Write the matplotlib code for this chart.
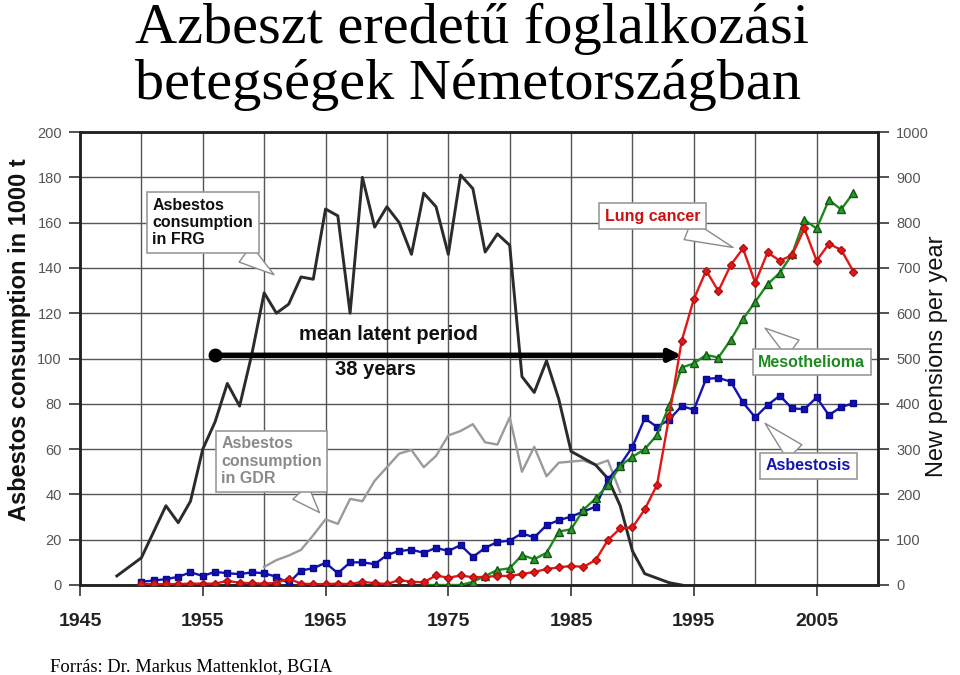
import matplotlib
matplotlib.use("Agg")
import matplotlib.pyplot as plt

# asbestos consumption, 1000 t
frg_years = [1948, 1950, 1952, 1953, 1954, 1955, 1956, 1957, 1958, 1959,
             1960, 1961, 1962, 1963, 1964, 1965, 1966, 1967, 1968, 1969,
             1970, 1971, 1972, 1973, 1974, 1975, 1976, 1977, 1978, 1979,
             1980, 1981, 1982, 1983, 1984, 1985, 1986, 1987, 1988, 1989,
             1990, 1991, 1992, 1993, 1994]
frg = [4, 12, 35, 27.5, 37, 60, 72, 89, 79, 102,
       129, 120, 124, 136, 135, 166, 163, 120, 180, 158,
       167, 160, 146, 173, 167, 146, 181, 175, 147, 155,
       150, 92, 85, 99, 82, 59, 56, 53, 47, 35,
       15, 5, 3, 1, 0]

gdr_years = list(range(1960, 1990))
gdr = [8, 11, 13, 15.5, 22, 29, 27, 38, 37, 46,
       52, 58, 59.6, 52, 57, 66, 68, 71, 63, 62,
       74, 50, 61, 48, 54, 54.5, 55, 53, 55, 41]

# new pensions per year
years = list(range(1950, 2009))
asbestosis = [7, 10, 13, 18, 28, 20, 29, 26, 24, 28,
              26, 18, 4, 32, 37, 49, 26, 50, 50, 46,
              66, 75, 78, 71, 82, 75, 88, 62, 82, 95,
              98, 114, 105, 132, 143, 151, 162, 173, 233, 265,
              305, 368, 349, 365, 395, 387, 455, 457, 449, 403,
              370, 397, 418, 390, 388, 414, 375, 393, 401]
lung_cancer = [2, 2, 2, 2, 3, 3, 3, 9, 5, 4,
               3, 5, 14, 3, 2, 2, 3, 2, 7, 4,
               2, 11, 7, 6, 21, 16, 21, 17, 18, 20,
               20, 24, 29, 35, 39, 42, 40, 55, 99, 125,
               127, 167, 221, 373, 538, 631, 694, 649, 706, 743,
               667, 734, 716, 728, 787, 716, 753, 740, 692]
meso_years = list(range(1973, 2009))
mesothelioma = [0, 0, 0, 0, 7, 20, 33, 37, 66, 57,
                71, 118, 123, 166, 191, 221, 263, 283, 300, 331,
                396, 480, 489, 508, 502, 541, 587, 625, 664, 689,
                730, 806, 787, 850, 829, 866]

latent_start = 1956
latent_years = 38

sans = ["Liberation Sans", "DejaVu Sans"]
serif = ["Liberation Serif", "DejaVu Serif"]

fig = plt.figure(figsize=(9.6, 6.75), dpi=100)
fig.patch.set_facecolor("white")

ax = fig.add_axes([80 / 960, 1 - 585 / 675, 798 / 960, 453 / 675])
ax2 = ax.twinx()

ax.set_xlim(1945, 2010)
ax.set_ylim(0, 200)
ax2.set_ylim(0, 1000)

ax.set_xticks(range(1945, 2011, 10))
ax.set_xticks(range(1950, 2011, 10), minor=True)
ax.set_yticks(range(0, 201, 20))
ax2.set_yticks(range(0, 1001, 100))
ax.grid(True, which="both", color="#555555", lw=1.0)
ax.set_axisbelow(True)

ax.tick_params(axis="x", which="major", length=8, width=1.2, color="#333333",
               pad=12, labelsize=14, labelcolor="#222222")
ax.tick_params(axis="x", which="minor", length=0)
ax.tick_params(axis="y", length=8, width=1.2, color="#333333", pad=5,
               labelsize=10.5, labelcolor="#555555")
ax2.tick_params(axis="y", length=8, width=1.2, color="#333333", pad=5,
                labelsize=10.5, labelcolor="#555555")
for lab in ax.get_xticklabels():
    lab.set_fontweight("bold")
    lab.set_family(sans)
for lab in ax.get_yticklabels() + ax2.get_yticklabels():
    lab.set_family(sans)

for a in (ax, ax2):
    for s in a.spines.values():
        s.set_linewidth(1.8)
        s.set_color("#222222")

ax.plot(gdr_years, gdr, color="#9a9a9a", lw=1.7, zorder=3)
ax.plot(frg_years, frg, color="#2b2b2b", lw=2.1, zorder=3)

ax2.plot(years, asbestosis, color="#1414b4", lw=1.7, marker="s", ms=4.5,
         mfc="#1010b0", mec="#0a0a90", zorder=4)
ax2.plot(meso_years, mesothelioma, color="#1d8a1d", lw=1.7, marker="^", ms=6,
         mfc="#2a9a2a", mec="#145814", zorder=5)
ax2.plot(years, lung_cancer, color="#e01818", lw=1.7, marker="D", ms=4,
         mfc="#e01818", mec="#b01010", zorder=6)

# mean latent period arrow
ax2.annotate("", xy=(latent_start + latent_years, 507), xytext=(latent_start, 507),
             arrowprops=dict(arrowstyle="-|>,head_length=0.7,head_width=0.35",
                             lw=4, color="black", shrinkA=0, shrinkB=0), zorder=7)
ax2.plot([latent_start], [507], marker="o", ms=9, color="black", zorder=7)
ax.text(1970.1, 110.5, "mean latent period", ha="center", va="center",
        fontsize=14.5, fontweight="bold", family=sans, color="#111111", zorder=8)
ax.text(1969.1, 95, "%d years" % latent_years, ha="center", va="center",
        fontsize=14.5, fontweight="bold", family=sans, color="#111111", zorder=8)


def callout(a, text, tip, box, color):
    a.annotate(text, xy=tip, xytext=box, ha="center", va="center",
               multialignment="left", fontsize=11.5, fontweight="bold",
               family=sans, color=color, zorder=9,
               bbox=dict(boxstyle="square,pad=0.35", fc="white", ec="#9a9a9a", lw=1.2),
               arrowprops=dict(arrowstyle="wedge,tail_width=1.3,shrink_factor=0.5",
                               fc="white", ec="#8a8a8a", lw=1.0, shrinkA=0, shrinkB=0))


callout(ax, "Asbestos\nconsumption\nin FRG", (1960.8, 137), (1955.0, 160), "#111111")
callout(ax, "Asbestos\nconsumption\nin GDR", (1964.5, 32), (1960.6, 54.7), "#8a8a8a")
callout(ax2, "Lung cancer", (1998.2, 745), (1991.65, 814), "#d01010")
callout(ax2, "Mesothelioma", (2000.8, 567), (2004.6, 492), "#1d8a1d")
callout(ax2, "Asbestosis", (2000.8, 357), (2004.35, 263), "#1414b4")

fig.text(20 / 960, 1 - 340 / 675, "Asbestos consumption in 1000 t", rotation=90,
         ha="center", va="center", fontsize=17, fontweight="bold", family=sans,
         color="#111111")
fig.text(937 / 960, 1 - 356 / 675, "New pensions per year", rotation=90,
         ha="center", va="center", fontsize=17, family=sans, color="#111111")

fig.text(135 / 960, 1 - 43 / 675, "Azbeszt eredetű foglalkozási", ha="left",
         va="baseline", fontsize=42, family=serif, color="black")
fig.text(135 / 960, 1 - 99 / 675, "betegségek Németországban", ha="left",
         va="baseline", fontsize=42, family=serif, color="black")
fig.text(50 / 960, 1 - 671 / 675, "Forrás: Dr. Markus Mattenklot, BGIA", ha="left",
         va="baseline", fontsize=13.3, family=serif, color="black")

fig.savefig("out.png", dpi=100)
